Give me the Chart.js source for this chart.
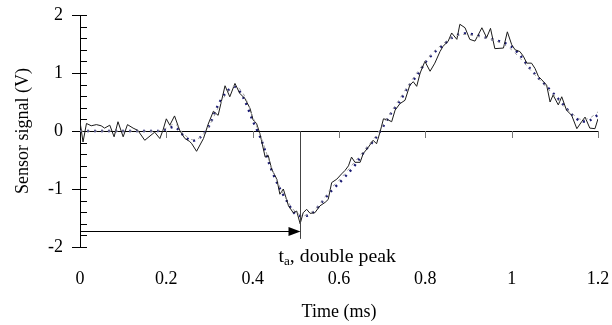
<!DOCTYPE html>
<html>
<head>
<meta charset="utf-8">
<script src="https://cdn.jsdelivr.net/npm/chart.js@4/dist/chart.umd.min.js"></script>
<style>
  html, body { margin: 0; padding: 0; background: #fff; }
  #wrap { width: 612px; height: 325px; }
</style>
</head>
<body>
<div id="wrap"><canvas id="chart" width="612" height="325"></canvas></div>
<script>
// measured signal (noisy trace)
const noisyTime = [0.000, 0.007, 0.015, 0.026, 0.038, 0.049, 0.057, 0.069, 0.079, 0.088, 0.100, 0.110, 0.123, 0.134, 0.150, 0.173, 0.185, 0.192, 0.200, 0.208, 0.219, 0.231, 0.243, 0.254, 0.259, 0.270, 0.286, 0.297, 0.309, 0.320, 0.336, 0.347, 0.359, 0.370, 0.382, 0.394, 0.401, 0.409, 0.417, 0.429, 0.436, 0.444, 0.456, 0.463, 0.471, 0.483, 0.494, 0.502, 0.510, 0.517, 0.525, 0.533, 0.544, 0.556, 0.568, 0.575, 0.583, 0.595, 0.606, 0.614, 0.622, 0.629, 0.637, 0.649, 0.656, 0.668, 0.679, 0.687, 0.695, 0.703, 0.714, 0.722, 0.730, 0.741, 0.753, 0.764, 0.772, 0.780, 0.788, 0.799, 0.811, 0.822, 0.834, 0.841, 0.853, 0.861, 0.873, 0.880, 0.892, 0.903, 0.915, 0.931, 0.942, 0.951, 0.961, 0.981, 0.990, 1.000, 1.008, 1.019, 1.027, 1.035, 1.046, 1.054, 1.062, 1.070, 1.081, 1.089, 1.096, 1.108, 1.116, 1.127, 1.139, 1.151, 1.162, 1.170, 1.181, 1.193, 1.200];
const noisySignal = [0.16, -0.19, 0.13, 0.09, 0.11, 0.09, 0.05, 0.10, -0.10, 0.16, -0.10, 0.11, 0.05, 0.01, -0.16, -0.02, -0.13, 0.01, 0.21, 0.10, 0.26, 0.01, -0.13, -0.18, -0.22, -0.35, -0.13, 0.12, 0.34, 0.27, 0.78, 0.59, 0.82, 0.65, 0.56, 0.39, 0.19, 0.13, -0.05, -0.45, -0.42, -0.66, -0.83, -1.09, -1.00, -1.29, -1.41, -1.38, -1.60, -1.41, -1.35, -1.42, -1.41, -1.29, -1.23, -1.18, -0.89, -0.83, -0.74, -0.68, -0.60, -0.45, -0.54, -0.54, -0.39, -0.28, -0.16, -0.22, -0.02, 0.21, 0.19, 0.16, 0.36, 0.47, 0.53, 0.79, 0.85, 0.77, 1.00, 1.20, 1.03, 1.17, 1.37, 1.46, 1.55, 1.69, 1.58, 1.84, 1.78, 1.58, 1.55, 1.78, 1.61, 1.77, 1.42, 1.43, 1.71, 1.49, 1.40, 1.37, 1.29, 1.17, 1.17, 1.08, 0.94, 0.88, 0.79, 0.50, 0.62, 0.45, 0.59, 0.36, 0.27, 0.04, 0.16, 0.24, 0.05, 0.04, 0.21];

// smooth fits
const fitTime = [0, 0.02, 0.04, 0.06, 0.08, 0.10, 0.12, 0.14, 0.16, 0.18, 0.20, 0.22, 0.24, 0.26, 0.28, 0.30, 0.32, 0.34, 0.36, 0.38, 0.40, 0.42, 0.44, 0.46, 0.48, 0.50, 0.52, 0.54, 0.56, 0.58, 0.60, 0.62, 0.64, 0.66, 0.68, 0.70, 0.72, 0.74, 0.76, 0.78, 0.80, 0.82, 0.84, 0.86, 0.88, 0.90, 0.92, 0.94, 0.96, 0.98, 1.00, 1.02, 1.04, 1.06, 1.08, 1.10, 1.12, 1.14, 1.16, 1.18, 1.20];
const fitBlue = [0, 0, 0, 0, 0, 0, 0, 0, 0, 0, 0.03, 0.07, -0.08, -0.17, -0.10, 0.10, 0.45, 0.68, 0.76, 0.55, 0.18, -0.15, -0.60, -0.95, -1.22, -1.44, -1.47, -1.40, -1.23, -1.05, -0.90, -0.74, -0.56, -0.34, -0.17, 0.05, 0.30, 0.50, 0.76, 0.95, 1.18, 1.35, 1.47, 1.60, 1.67, 1.68, 1.65, 1.61, 1.57, 1.53, 1.45, 1.30, 1.10, 0.93, 0.78, 0.62, 0.45, 0.28, 0.17, 0.18, 0.28];
const fitGray = [0, 0, 0, 0, 0, 0, 0, 0, 0, 0, 0.05, 0.12, -0.05, -0.15, -0.10, 0.10, 0.40, 0.65, 0.78, 0.62, 0.25, -0.12, -0.55, -0.92, -1.20, -1.40, -1.46, -1.38, -1.22, -1.00, -0.85, -0.68, -0.50, -0.32, -0.14, 0.08, 0.32, 0.55, 0.78, 1.00, 1.20, 1.37, 1.50, 1.60, 1.66, 1.66, 1.63, 1.60, 1.56, 1.50, 1.40, 1.25, 1.08, 0.92, 0.76, 0.60, 0.43, 0.30, 0.20, 0.22, 0.33];

// axes
const xTicks = [0, 0.2, 0.4, 0.6, 0.8, 1, 1.2];
const xTickLabels = ["0", "0.2", "0.4", "0.6", "0.8", "1", "1.2"];
const yTicks = [2, 1, 0, -1, -2];
const yTickLabels = ["2", "1", "0", "-1", "-2"];

// arrival time marker
const arrivalTime = 0.51;
const arrowLevel = -1.72;
const markerBottom = -1.86;

const serif = "'Liberation Serif', 'DejaVu Serif', serif";

const toPoints = (xs, ys) => xs.map((x, i) => ({ x: x, y: ys[i] }));

const axesPlugin = {
  id: "axesPlugin",
  beforeDatasetsDraw(chart) {
    const { ctx, scales } = chart;
    const x = scales.x, y = scales.y;
    const x0 = x.getPixelForValue(0);
    const y0 = y.getPixelForValue(0);
    ctx.save();
    ctx.strokeStyle = "#000";
    ctx.lineWidth = 1;
    // y axis with major and minor ticks
    ctx.beginPath();
    ctx.moveTo(x0 + 0.5, y.getPixelForValue(2));
    ctx.lineTo(x0 + 0.5, y.getPixelForValue(-2));
    for (let v = -2; v <= 2.001; v += 0.2) {
      const py = Math.round(y.getPixelForValue(v)) + 0.5;
      const major = Math.abs(v - Math.round(v)) < 0.01;
      ctx.moveTo(major ? x0 - 8 : x0, py);
      ctx.lineTo(x0 + 7, py);
    }
    ctx.stroke();
    // x axis at y = 0
    ctx.beginPath();
    ctx.moveTo(x0, Math.round(y0) + 0.5);
    ctx.lineTo(x.getPixelForValue(1.2), Math.round(y0) + 0.5);
    ctx.stroke();
    ctx.strokeStyle = "#777";
    ctx.beginPath();
    xTicks.slice(1).forEach(v => {
      const px = Math.round(x.getPixelForValue(v)) + 0.5;
      ctx.moveTo(px, y0);
      ctx.lineTo(px, y0 + 7);
    });
    ctx.stroke();
    ctx.restore();
  },
  afterDatasetsDraw(chart) {
    const { ctx, scales } = chart;
    const x = scales.x, y = scales.y;
    const px = Math.round(x.getPixelForValue(arrivalTime)) + 0.5;
    const ay = Math.round(y.getPixelForValue(arrowLevel)) + 0.5;
    ctx.save();
    // vertical marker
    ctx.strokeStyle = "#444";
    ctx.lineWidth = 1;
    ctx.beginPath();
    ctx.moveTo(px, y.getPixelForValue(0));
    ctx.lineTo(px, y.getPixelForValue(markerBottom));
    ctx.stroke();
    // horizontal arrow
    ctx.strokeStyle = "#000";
    ctx.beginPath();
    ctx.moveTo(x.getPixelForValue(0), ay);
    ctx.lineTo(px - 10, ay);
    ctx.stroke();
    ctx.fillStyle = "#000";
    ctx.beginPath();
    ctx.moveTo(px, ay);
    ctx.lineTo(px - 12, ay - 4.5);
    ctx.lineTo(px - 12, ay + 4.5);
    ctx.closePath();
    ctx.fill();
    // label, slightly widened like the source figure
    const ty = y.getPixelForValue(-2) + 15;
    ctx.translate(px - 22, ty);
    ctx.scale(1.1, 1);
    let tx = 0;
    ctx.fillStyle = "#000";
    ctx.textBaseline = "alphabetic";
    ctx.font = "18px " + serif;
    ctx.fillText("t", tx, 0);
    tx += ctx.measureText("t").width;
    ctx.font = "12px " + serif;
    ctx.fillText("a", tx, 3);
    tx += ctx.measureText("a").width;
    ctx.font = "18px " + serif;
    ctx.fillText(", double peak", tx, 0);
    ctx.restore();
  }
};

new Chart(document.getElementById("chart"), {
  type: "scatter",
  data: {
    datasets: [
      {
        label: "Fit 2",
        data: toPoints(fitTime, fitGray),
        showLine: true,
        borderColor: "#a0a0a0",
        borderWidth: 1,
        borderDash: [3, 4],
        pointRadius: 0,
        tension: 0.3
      },
      {
        label: "Measured",
        data: toPoints(noisyTime, noisySignal),
        showLine: true,
        borderColor: "#1a1a1a",
        borderWidth: 1,
        pointRadius: 0
      },
      {
        label: "Fit 1",
        data: toPoints(fitTime, fitBlue),
        showLine: true,
        borderColor: "#1c1c74",
        borderWidth: 2.4,
        borderDash: [2, 5],
        pointRadius: 0,
        tension: 0.3
      }
    ]
  },
  options: {
    responsive: false,
    animation: false,
    events: [],
    layout: { padding: { top: 15, right: 14, left: 0, bottom: 0 } },
    plugins: { legend: { display: false }, tooltip: { enabled: false } },
    scales: {
      x: {
        type: "linear",
        min: 0,
        max: 1.2,
        afterFit: s => { s.height = 78; s.paddingLeft = 0; s.paddingRight = 0; },
        afterBuildTicks: s => { s.ticks = xTicks.map(v => ({ value: v })); },
        grid: { display: false, drawTicks: false },
        border: { display: false },
        ticks: {
          padding: 21,
          color: "#000",
          font: { family: serif, size: 18 },
          maxRotation: 0,
          callback: v => xTickLabels[xTicks.indexOf(v)]
        },
        title: {
          display: true,
          text: "Time (ms)",
          color: "#000",
          font: { family: serif, size: 18 },
          padding: { top: 0, bottom: 2 }
        }
      },
      y: {
        type: "linear",
        min: -2,
        max: 2,
        afterFit: s => { s.width = 80; s.paddingTop = 0; s.paddingBottom = 0; },
        afterBuildTicks: s => { s.ticks = yTicks.map(v => ({ value: v })); },
        grid: { display: false, drawTicks: false },
        border: { display: false },
        ticks: {
          padding: 17,
          color: "#000",
          font: { family: serif, size: 18 },
          callback: v => yTickLabels[yTicks.indexOf(v)]
        },
        title: {
          display: true,
          text: "Sensor signal (V)",
          color: "#000",
          font: { family: serif, size: 18 },
          padding: { top: 12, bottom: 0 }
        }
      }
    }
  },
  plugins: [axesPlugin]
});
</script>
</body>
</html>
